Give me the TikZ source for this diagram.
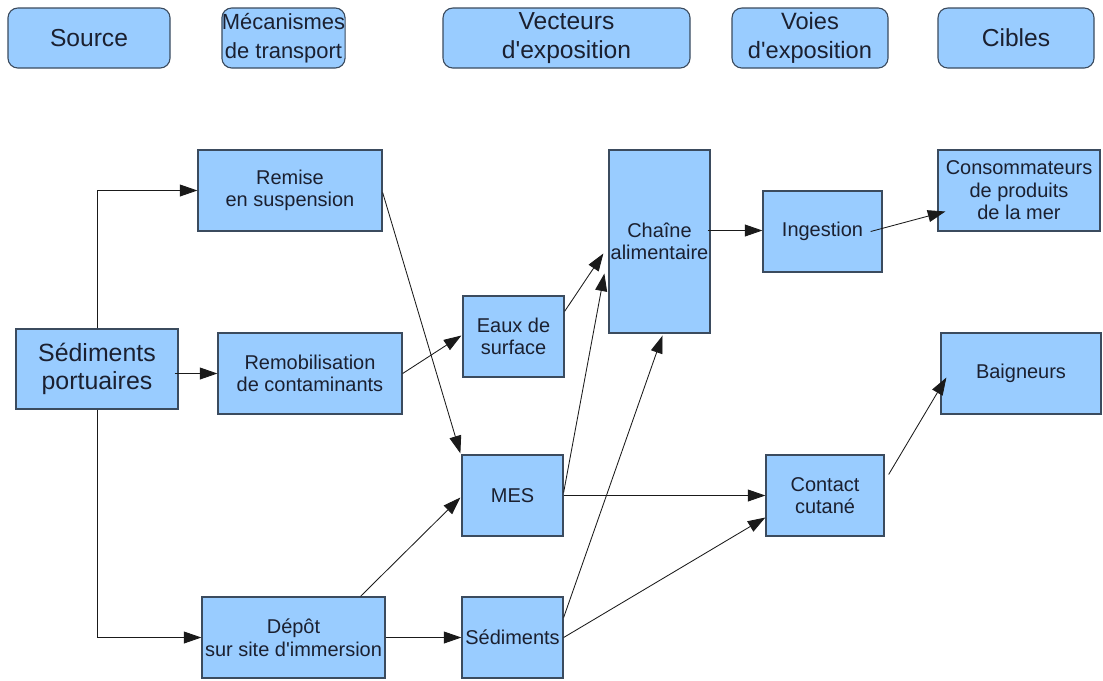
\documentclass[tikz,border=0pt]{standalone}
\usepackage{fontspec}
\setmainfont{Liberation Sans}
\usetikzlibrary{arrows.meta,calc}
\definecolor{boxfill}{HTML}{99CCFF}
\definecolor{boxline}{HTML}{3B4B5E}
\definecolor{txt}{HTML}{1B2030}
\definecolor{wire}{HTML}{1A1A1A}
\newcommand{\apos}{\textquotesingle}
\begin{document}
\begin{tikzpicture}[x=0.025cm,y=-0.025cm,
  sz/.style 2 args={minimum width=#1*0.025cm, minimum height=#2*0.025cm},
  head/.style={draw=boxline, line width=0.8pt, fill=boxfill, rounded corners=7pt, inner sep=0pt,
    align=center, text=txt, font=\fontsize{17.5}{20.5}\selectfont},
  stepbox/.style={draw=boxline, line width=0.9pt, fill=boxfill, inner sep=0pt,
    align=center, text=txt, font=\fontsize{14.2}{16}\selectfont},
  conn/.style={draw=wire, line width=0.6pt, -{Triangle[length=12.5pt,width=8.5pt]}}]
\useasboundingbox[fill=white] (0,0) rectangle (1103,680);

% header row
\node[head, sz={162}{60}] (hsrc) at (89,38) {Source};
\node[head, sz={123}{60}, font=\fontsize{15.6}{20.5}\selectfont] (hmec) at (283.5,38) {Mécanismes\\de transport};
\node[head, sz={247}{60}] (hvec) at (566.5,38) {Vecteurs\\d\apos exposition};
\node[head, sz={156}{60}, font=\fontsize{16.8}{20.5}\selectfont] (hvoi) at (810,38) {Voies\\d\apos exposition};
\node[head, sz={156}{60}] (hcib) at (1016,38) {Cibles};

% boxes
\node[stepbox, sz={162}{80}, font=\fontsize{17.7}{19.5}\selectfont] (src) at (97,369) {Sédiments\\portuaires};
\node[stepbox, sz={184}{81}] (remise) at (290,190.5) {Remise\\en suspension};
\node[stepbox, sz={184}{81}] (remob) at (310,373.5) {Remobilisation\\de contaminants};
\node[stepbox, sz={183}{81}] (depot) at (293.5,637.5) {Dépôt\\sur site d\apos immersion};
\node[stepbox, sz={101}{81}] (eaux) at (513.5,336.5) {Eaux de\\surface};
\node[stepbox, sz={101}{81}] (mes) at (512.5,495.5) {MES};
\node[stepbox, sz={101}{81}] (sed) at (512.5,637.5) {Sédiments};
\node[stepbox, sz={101}{183}] (chaine) at (659.5,241.5) {Chaîne\\alimentaire};
\node[stepbox, sz={119}{81}] (ingest) at (822.5,231.5) {Ingestion};
\node[stepbox, sz={118}{81}] (contact) at (825,495.5) {Contact\\cutané};
\node[stepbox, sz={162}{81}] (cons) at (1019,190.5) {Consommateurs\\de produits\\de la mer};
\node[stepbox, sz={160}{81}] (baign) at (1021,373.5) {Baigneurs};

% connectors
\draw[conn] (src.north) |- (remise.west);
\draw[conn] ($(src.east |- remob.west)+(-4,0)$) -- (remob.west);
\draw[conn] (src.south) |- (depot.west);
\draw[conn] ($(remise.east)+(0,2)$) -- ($(mes.north west)+(-1,-1)$);
\draw[conn] (remob.east) -- ($(eaux.west)+(-1,-1)$);
\draw[conn] ($(eaux.north east)+(0,16)$) -- ($(chaine.west)+(-5,12)$);
\draw[conn] ($(mes.east)+(0,-3)$) -- ($(chaine.west)+(-4,32)$);
\draw[conn] (mes.east) -- (contact.west);
\draw[conn] ($(sed.east)+(0,-20)$) -- ($(chaine.south)+(3,2)$);
\draw[conn] (sed.east) -- ($(contact.west)+(0,22)$);
\draw[conn] (depot.east) -- (sed.west);
\draw[conn] ($(depot.north)+(67,0)$) -- ($(mes.west)+(-1,2)$);
\draw[conn] ($(chaine.east |- ingest.west)+(-3,-1)$) -- ($(ingest.west)+(0,-1)$);
\draw[conn] ($(ingest.east)+(-12,0)$) -- ($(cons.west)+(8,21)$);
\draw[conn] ($(contact.east)+(4,-21)$) -- ($(baign.west)+(6,4)$);
\end{tikzpicture}
\end{document}
